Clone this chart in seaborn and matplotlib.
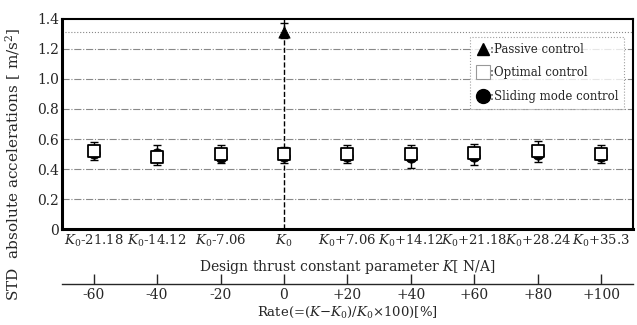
import numpy as np
import pandas as pd
import matplotlib
matplotlib.use("Agg")
import matplotlib.pyplot as plt
import seaborn as sns
from matplotlib.lines import Line2D

# Rate of design thrust constant [%] and the matching K labels
rate = [-60, -40, -20, 0, 20, 40, 60, 80, 100]
k_labels = [r"$K_0$-21.18", r"$K_0$-14.12", r"$K_0$-7.06", r"$K_0$",
            r"$K_0$+7.06", r"$K_0$+14.12", r"$K_0$+21.18", r"$K_0$+28.24", r"$K_0$+35.3"]
rate_labels = ["-60", "-40", "-20", "0", "+20", "+40", "+60", "+80", "+100"]

# STD absolute accelerations [m/s^2]
optimal = [0.52, 0.48, 0.50, 0.50, 0.50, 0.50, 0.51, 0.52, 0.50]
optimal_hi = [0.58, 0.56, 0.56, 0.55, 0.56, 0.56, 0.57, 0.59, 0.56]
optimal_lo = [0.46, 0.43, 0.44, 0.44, 0.44, 0.41, 0.43, 0.45, 0.44]
sliding = [0.51, 0.50, 0.48, 0.49, 0.49, 0.48, 0.49, 0.50, 0.49]

passive_rate = [0]
passive = [1.31]
passive_hi = [1.37]
passive_lo = [1.27]

df = pd.DataFrame({"rate": rate, "optimal": optimal, "sliding": sliding,
                   "hi": optimal_hi, "lo": optimal_lo})

sns.set_style("white")
plt.rcParams["font.family"] = ["DejaVu Serif"]
plt.rcParams["mathtext.fontset"] = "dejavuserif"

fig = plt.figure(figsize=(6.37, 3.25), dpi=100)
ax = fig.add_axes([0.097, 0.295, 0.897, 0.647])

# grid lines
for y in [0.2, 0.4, 0.6, 0.8, 1.0, 1.2]:
    ax.axhline(y, color="#888888", lw=0.8, ls="-.", zorder=0)
ax.axhline(1.31, color="#888888", lw=0.8, ls=":", zorder=0)
ax.axvline(0, color="black", lw=1.0, ls="--", zorder=1)

# error bars
ax.errorbar(df["rate"], df["optimal"],
            yerr=[df["optimal"] - df["lo"], df["hi"] - df["optimal"]],
            fmt="none", ecolor="black", elinewidth=1.0, capsize=3, capthick=1.0, zorder=2)
ax.errorbar(passive_rate, passive,
            yerr=[[passive[0] - passive_lo[0]], [passive_hi[0] - passive[0]]],
            fmt="none", ecolor="black", elinewidth=1.0, capsize=3, capthick=1.0, zorder=2)

sns.scatterplot(data=df, x="rate", y="sliding", marker="o", s=65, color="black",
                edgecolor="black", ax=ax, zorder=3)
sns.scatterplot(data=df, x="rate", y="optimal", marker="s", s=65, color="white",
                edgecolor="black", linewidth=1.3, ax=ax, zorder=4)
sns.scatterplot(x=passive_rate, y=passive, marker="^", s=65, color="black",
                edgecolor="black", ax=ax, zorder=4)

ax.set_xlim(-70, 110)
ax.set_ylim(0, 1.4)
ax.set_yticks([0, 0.2, 0.4, 0.6, 0.8, 1.0, 1.2, 1.4])
ax.set_yticklabels(["0", "0.2", "0.4", "0.6", "0.8", "1.0", "1.2", "1.4"], fontsize=10)
ax.set_xticks(rate)
ax.set_xticklabels(k_labels, fontsize=9.5)
ax.tick_params(axis="x", direction="in", length=8, width=1.2, pad=3)
ax.tick_params(axis="y", length=0, pad=2)
ax.set_xlabel(r"Design thrust constant parameter $K$[ N/A]", fontsize=10, labelpad=6)
ax.set_ylabel(r"STD  absolute accelerations [ m/s$^2$]", fontsize=11)
ax.yaxis.set_label_coords(-0.068, 0.31)

for side in ["top", "right"]:
    ax.spines[side].set_linewidth(1.5)
for side in ["bottom", "left"]:
    ax.spines[side].set_linewidth(2.2)
for sp in ax.spines.values():
    sp.set_color("black")

# secondary rate axis
sec = ax.secondary_xaxis(-0.262)
sec.set_xticks(rate)
sec.set_xticklabels(rate_labels, fontsize=10)
sec.tick_params(direction="in", length=7, width=1.0, pad=3)
sec.spines["bottom"].set_linewidth(1.0)
sec.set_xlabel(r"Rate(=($K$$-$$K_0$)/$K_0$$\times$100)[%]", fontsize=9.5, labelpad=2)

handles = [
    Line2D([], [], marker="^", ls="none", color="black", markersize=9),
    Line2D([], [], marker="s", ls="none", markerfacecolor="white",
           markeredgecolor="#999999", markeredgewidth=0.8, markersize=10),
    Line2D([], [], marker="o", ls="none", color="black", markersize=10),
]
labels = [":Passive control", ":Optimal control", ":Sliding mode control"]
leg = ax.legend(handles, labels, loc="upper right", bbox_to_anchor=(0.984, 0.914),
                fontsize=8.5, handletextpad=0.0, handlelength=1.2,
                frameon=True, fancybox=False, borderpad=0.5, labelspacing=0.9,
                borderaxespad=0)
leg.get_frame().set_linestyle(":")
leg.get_frame().set_edgecolor("#888888")
leg.get_frame().set_linewidth(0.8)

fig.savefig("out.png", dpi=100)
